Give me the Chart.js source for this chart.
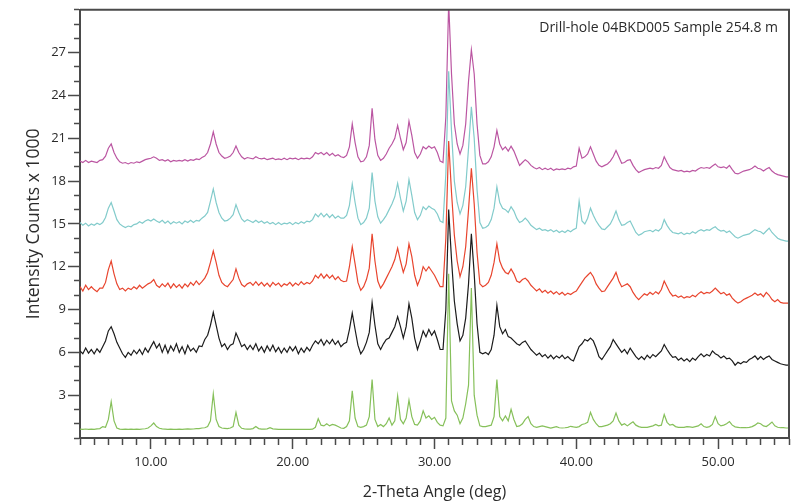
<!DOCTYPE html>
<html>
<head>
<meta charset="utf-8">
<title>XRD patterns - 04BKD005</title>
<script src="https://cdn.jsdelivr.net/npm/chart.js@4.4.1/dist/chart.umd.min.js"></script>
<style>
  html, body { margin: 0; padding: 0; background: #fff; }
  canvas { display: block; }
</style>
</head>
<body>
<canvas id="xrd" width="802" height="502"></canvas>
<script>
// 2-theta sampling of the scans: 5.0 .. 55.0 deg, 0.2 deg step
const twoThetaStart = 5;
const twoThetaStep = 0.2;

// intensity (counts x 1000), one row per degree, stacked scans
const magentaCounts = [
  19.4, 19.3, 19.45, 19.3, 19.4,
  19.35, 19.3, 19.45, 19.5, 19.75,
  20.3, 20.6, 20.0, 19.6, 19.35,
  19.25, 19.3, 19.2, 19.3, 19.25,
  19.35, 19.3, 19.4, 19.5, 19.55,
  19.6, 19.7, 19.6, 19.45, 19.5,
  19.4, 19.5, 19.35, 19.45, 19.4,
  19.45, 19.4, 19.5, 19.4, 19.5,
  19.45, 19.55, 19.5, 19.65, 19.75,
  20.0, 20.6, 21.45, 20.6, 20.0,
  19.75, 19.6, 19.65, 19.75, 20.0,
  20.45, 20.0, 19.7, 19.55, 19.65,
  19.6, 19.55, 19.7, 19.6, 19.55,
  19.6, 19.5, 19.55, 19.6, 19.5,
  19.55, 19.5, 19.6, 19.5, 19.6,
  19.55, 19.6, 19.5, 19.6, 19.55,
  19.6, 19.55, 19.7, 20.0, 19.9,
  20.0, 19.85, 20.0, 19.8, 19.95,
  19.75, 19.85, 19.7, 19.65, 19.8,
  20.4, 22.0, 20.7, 19.7, 19.35,
  19.4, 19.7, 20.5, 23.1, 20.9,
  19.8, 19.45, 19.6, 19.9, 20.3,
  20.6, 21.0, 21.9, 21.0, 20.2,
  20.7, 22.2, 21.2, 20.0, 19.6,
  19.9, 20.4, 20.25, 20.45, 20.3,
  20.4, 20.0, 19.4, 19.3, 22.5,
  30.5, 25.5, 22.0, 20.6, 19.9,
  20.5, 22.0, 25.0, 27.2, 25.5,
  22.0, 19.8, 19.2, 19.2, 19.35,
  19.7, 20.4, 21.55, 20.6, 20.2,
  20.4, 20.1, 20.45, 20.1, 19.6,
  19.1, 19.3, 19.5, 19.35, 19.1,
  18.95, 18.85, 18.95, 18.8, 18.9,
  18.8, 18.9, 18.75, 18.85, 18.8,
  18.85, 18.8, 18.9, 18.85, 19.0,
  19.05, 20.3, 19.6, 19.7, 19.9,
  20.4, 19.9, 19.4, 19.1, 19.0,
  19.1, 19.2, 19.4, 19.7, 20.15,
  19.7, 19.25, 19.3, 19.45, 19.5,
  19.1, 18.8, 18.6, 18.7, 18.8,
  18.85, 18.9, 18.85, 18.95, 18.9,
  19.1, 19.7, 19.3, 18.95, 18.8,
  18.75, 18.7, 18.75, 18.65, 18.7,
  18.65, 18.75, 18.7, 18.85, 18.95,
  18.9, 18.95, 18.9, 19.05, 19.2,
  19.0, 18.95, 19.0, 18.9, 19.1,
  18.8, 18.55, 18.5, 18.6, 18.7,
  18.75, 18.8, 18.9, 19.05, 18.9,
  18.85, 18.7, 18.85, 18.95, 18.7,
  18.55, 18.45, 18.4, 18.35, 18.3,
  18.3
];

const cyanCounts = [
  15.1, 14.9, 15.05, 14.85, 15.0,
  14.9, 15.05, 14.95, 15.1, 15.45,
  16.1, 16.5, 15.9, 15.3, 15.0,
  14.85, 14.75, 14.85, 14.8, 14.95,
  15.0, 15.15, 15.05, 15.2, 15.3,
  15.2, 15.35, 15.2, 15.1, 15.25,
  15.05, 15.2, 15.0, 15.15, 15.05,
  15.15, 15.0, 15.2, 15.1, 15.25,
  15.1, 15.25, 15.2, 15.4, 15.55,
  15.8, 16.6, 17.45, 16.5, 15.8,
  15.4, 15.2, 15.25, 15.4, 15.65,
  16.35, 15.8, 15.35, 15.15, 15.3,
  15.2, 15.1, 15.25, 15.1, 15.2,
  15.05, 15.15, 15.0, 15.1, 14.95,
  15.1, 14.95, 15.05, 15.0, 15.1,
  14.95, 15.1, 15.0, 15.15, 15.05,
  15.2, 15.15, 15.3, 15.7, 15.5,
  15.75, 15.5, 15.7, 15.45, 15.65,
  15.4, 15.55, 15.4, 15.4, 15.6,
  16.3, 17.8, 16.5, 15.4, 14.95,
  15.1, 15.4, 16.1, 18.6, 16.6,
  15.5, 15.05, 15.3, 15.6, 16.0,
  16.4, 16.9, 17.85, 16.8, 15.9,
  16.6, 18.1, 17.0, 15.8, 15.3,
  15.6, 16.2, 16.0, 16.25, 16.1,
  16.0, 15.7, 15.2, 15.1, 18.5,
  25.7, 21.5, 18.0, 16.5, 15.7,
  16.3, 17.6, 20.3, 23.2, 21.0,
  17.4, 15.1, 14.7, 14.75, 14.9,
  15.3, 16.1, 17.6, 16.5, 16.1,
  16.0, 15.8, 16.2, 15.9, 15.4,
  15.1, 15.2, 15.4, 15.2, 14.9,
  14.75, 14.6, 14.7, 14.55, 14.6,
  14.5, 14.6, 14.45, 14.55, 14.4,
  14.5, 14.4, 14.55, 14.45, 14.6,
  14.7, 16.6, 15.2, 15.0, 15.4,
  16.1, 15.6, 15.2, 14.9, 14.65,
  14.6, 14.8, 15.0, 15.4, 15.9,
  15.3, 14.9, 14.95, 15.1, 15.2,
  14.8, 14.4, 14.2, 14.3, 14.45,
  14.5, 14.55, 14.45, 14.6, 14.5,
  14.7, 15.3, 14.9, 14.6, 14.4,
  14.35, 14.3, 14.4, 14.25, 14.35,
  14.3, 14.45, 14.35, 14.5, 14.6,
  14.5, 14.6, 14.55, 14.7, 14.8,
  14.6, 14.5, 14.55, 14.4, 14.5,
  14.3, 14.1, 14.0, 14.1, 14.2,
  14.25, 14.3, 14.45, 14.6, 14.5,
  14.45, 14.3, 14.5, 14.7, 14.4,
  14.2, 14.0, 13.9, 13.85, 13.8,
  13.8
];

const redCounts = [
  10.6, 10.3, 10.7, 10.4, 10.6,
  10.4, 10.25, 10.5, 10.5, 10.9,
  11.8, 12.4, 11.5, 10.8, 10.4,
  10.5, 10.3, 10.5, 10.4, 10.6,
  10.45, 10.7, 10.5, 10.65, 10.8,
  10.9, 11.1, 10.7, 10.55, 10.8,
  10.6, 10.85, 10.5, 10.8, 10.55,
  10.75, 10.5, 10.8, 10.6, 10.9,
  10.7, 11.0, 10.75, 10.95, 11.2,
  11.6, 12.3, 13.1, 12.3, 11.4,
  10.9, 10.7, 10.6, 10.85, 11.1,
  11.85, 11.2, 10.75, 10.6, 10.8,
  10.9, 10.7, 10.95, 10.7, 10.9,
  10.65, 10.85, 10.6, 10.9, 10.7,
  10.85, 10.6, 10.8, 10.7, 10.9,
  10.65, 10.85, 10.7, 10.95, 10.75,
  10.9, 10.8, 11.0, 11.4, 11.2,
  11.5, 11.2, 11.45, 11.2, 11.4,
  11.1, 11.3, 11.05, 10.95, 11.0,
  12.0, 13.4, 12.2, 10.9, 10.35,
  10.6, 11.1, 11.9, 14.3, 12.4,
  11.0, 10.5, 10.8, 11.2, 11.6,
  12.0, 12.5, 13.3, 12.4, 11.6,
  12.2, 13.6, 12.7, 11.4, 10.7,
  11.2, 12.0, 11.7, 12.0, 11.7,
  11.4, 11.0, 10.6, 10.6, 14.0,
  20.8, 17.2, 14.2, 12.4, 11.3,
  12.0, 13.4, 16.0, 18.9, 16.4,
  13.0, 10.8, 10.6, 10.7, 10.9,
  11.4, 12.3, 13.6, 12.4, 11.9,
  11.6, 11.5, 11.85, 11.5, 11.0,
  10.9, 11.1, 11.2, 11.0, 10.7,
  10.5, 10.3, 10.45, 10.2, 10.35,
  10.15, 10.3, 10.1, 10.25, 10.05,
  10.2, 10.0, 10.15, 10.05, 10.2,
  10.3, 10.6, 10.9, 11.2, 11.4,
  11.6, 11.3, 10.8, 10.5, 10.25,
  10.3, 10.6, 10.9, 11.2, 11.6,
  11.0, 10.6, 10.7, 10.8, 10.6,
  10.2, 9.9, 9.7, 9.9, 10.1,
  10.0, 10.2, 10.05, 10.25, 10.1,
  10.4, 11.0, 10.6, 10.2, 9.95,
  10.0, 9.85, 9.95, 9.8, 9.9,
  9.85, 10.0, 9.9, 10.1, 10.25,
  10.1, 10.2, 10.15, 10.3, 10.5,
  10.3, 10.1, 10.2, 10.0, 10.1,
  9.8, 9.6, 9.45, 9.55, 9.7,
  9.8, 9.9, 10.0, 10.15, 10.0,
  10.1, 9.9, 10.2, 10.0, 9.7,
  9.55, 9.7, 9.5, 9.45, 9.45,
  9.45
];

const blackCounts = [
  6.1, 5.9, 6.3, 5.95, 6.2,
  5.9, 6.25, 6.0, 6.4, 6.8,
  7.5, 7.8, 7.3, 6.7, 6.3,
  5.9, 5.65, 6.0, 5.8, 6.15,
  5.9, 6.2, 5.85, 6.3, 6.0,
  6.4, 6.75, 6.3, 6.6, 6.0,
  6.5, 5.95, 6.45, 6.1, 6.6,
  6.0, 6.4, 5.9, 6.5, 6.1,
  6.3, 6.0, 6.45, 6.4, 6.9,
  7.2, 7.9, 8.8, 7.9, 7.0,
  6.4, 6.6, 6.2, 6.5, 6.6,
  7.35, 6.9, 6.4, 6.55, 6.2,
  6.5, 6.2, 6.6, 6.1, 6.4,
  6.0, 6.45, 6.1, 6.5, 6.05,
  6.35, 5.95, 6.3, 6.0, 6.4,
  6.1, 6.4, 5.9, 6.3, 6.0,
  6.35, 6.1, 6.5, 6.8, 6.6,
  6.9, 6.5, 6.85, 6.6, 6.9,
  6.55, 6.8, 6.4, 6.6, 6.7,
  7.6, 8.75, 7.6, 6.5, 5.9,
  6.2, 6.7, 7.4, 9.5, 7.9,
  6.6, 6.2, 6.6, 6.9, 7.0,
  7.4, 7.8, 8.5, 7.8, 7.0,
  7.8, 9.4, 8.4, 7.0, 6.2,
  6.8, 7.5, 7.1, 7.6, 7.2,
  7.5, 6.9, 6.2, 6.2, 9.0,
  16.0, 12.5, 9.6, 8.0, 6.8,
  7.2, 8.4, 10.8, 14.3, 11.5,
  8.0, 6.0, 5.9, 6.0, 5.85,
  6.2, 7.2, 9.3, 7.8, 7.3,
  7.6, 7.1, 7.0, 6.8, 6.6,
  6.5, 6.7, 6.8, 6.5, 6.2,
  6.0, 5.8, 5.95, 5.7, 5.85,
  5.6, 5.8, 5.55, 5.75, 5.6,
  5.8, 5.55, 5.7, 5.5, 5.4,
  5.9, 6.4, 6.6, 6.9, 6.8,
  7.0, 6.8, 6.3, 5.7, 5.5,
  5.8, 6.1, 6.4, 6.9, 6.6,
  6.3, 6.0, 6.2, 5.9, 6.3,
  6.0, 5.7, 5.5, 5.7, 5.5,
  5.8, 5.6, 5.85, 5.7, 5.9,
  6.1, 6.55, 6.2, 5.9, 5.65,
  5.7, 5.45, 5.6, 5.4, 5.55,
  5.35, 5.6, 5.45, 5.7, 5.9,
  5.7, 5.85, 5.75, 6.1, 5.9,
  5.8, 5.6, 5.75, 5.55, 5.6,
  5.4, 5.1, 5.3, 5.2, 5.35,
  5.3, 5.5, 5.6, 5.75, 5.5,
  5.7, 5.5, 5.65, 5.75, 5.5,
  5.4, 5.3, 5.2, 5.15, 5.1,
  5.1
];

const greenCounts = [
  0.62, 0.6, 0.63, 0.6, 0.62,
  0.6, 0.64, 0.66, 0.8, 0.75,
  1.3, 2.55, 1.2, 0.7, 0.62,
  0.6, 0.62, 0.6, 0.62, 0.6,
  0.62, 0.6, 0.63, 0.65, 0.7,
  0.85, 1.05, 0.8, 0.68, 0.64,
  0.62, 0.6, 0.62, 0.6, 0.6,
  0.62, 0.6, 0.62, 0.64, 0.62,
  0.63, 0.65, 0.66, 0.7, 0.72,
  0.8, 1.2, 3.1, 1.3, 0.8,
  0.7, 0.68, 0.66, 0.7, 0.8,
  1.8, 0.9, 0.68, 0.64, 0.62,
  0.62, 0.66, 0.8, 0.66, 0.62,
  0.62, 0.64, 0.72, 0.64, 0.62,
  0.6, 0.6, 0.6, 0.6, 0.6,
  0.6, 0.6, 0.6, 0.6, 0.6,
  0.6, 0.6, 0.62, 0.75, 1.35,
  0.9, 0.85, 1.0, 0.85, 0.95,
  0.9, 0.8, 0.7, 0.68, 0.8,
  1.2, 3.3, 1.4, 0.8, 0.75,
  0.8, 0.9, 1.5, 4.1, 1.3,
  0.8, 0.95, 0.8, 1.0, 1.4,
  0.9, 1.2, 2.95, 1.3, 1.0,
  1.4, 2.65, 1.5, 0.95, 0.9,
  1.2, 1.9, 1.4, 1.55, 1.3,
  1.45, 1.1, 0.9, 0.85, 1.4,
  11.5, 2.6, 1.9, 1.6, 1.0,
  1.4, 2.4, 3.7, 10.5, 3.0,
  1.6, 0.85, 0.8, 0.8, 0.85,
  0.9, 1.5, 4.1, 1.5, 1.2,
  1.55, 1.2, 2.0, 1.3, 0.8,
  0.85, 1.0, 1.3, 1.5, 1.0,
  0.8, 0.75, 0.8, 0.85, 0.8,
  0.75, 0.7, 0.75, 0.8, 0.72,
  0.7, 0.72, 0.75, 0.82, 0.78,
  0.75, 0.8, 0.95, 1.0, 1.1,
  1.8, 1.3, 1.0, 0.8, 0.8,
  0.85, 0.9, 1.0, 1.2, 1.75,
  1.2, 0.9, 1.0, 0.85, 1.0,
  1.13, 0.9, 0.8, 0.75, 0.75,
  0.75, 0.8, 0.85, 0.95, 0.85,
  0.9, 1.65, 1.1, 0.9, 0.95,
  0.8, 0.75, 0.75, 0.75, 0.8,
  0.78, 0.75, 0.8, 0.85, 1.0,
  0.8, 0.75, 0.8, 0.95, 1.5,
  1.0, 0.85, 0.9, 1.0, 1.15,
  0.9, 0.78, 0.75, 0.72, 0.72,
  0.72, 0.75, 0.8, 0.9, 1.05,
  1.0, 0.85, 0.8, 0.95, 1.12,
  0.85, 0.75, 0.72, 0.72, 0.7,
  0.7
];

const xTickLabels = [10, 20, 30, 40, 50];
const yTickLabels = [3, 6, 9, 12, 15, 18, 21, 24, 27];
const sampleNote = 'Drill-hole 04BKD005 Sample 254.8 m';

const axisColor = '#4a4a4a';
const textColor = '#2b2b2b';

function toPoints(counts) {
  return counts.map((c, i) => ({ x: +(twoThetaStart + i * twoThetaStep).toFixed(1), y: c }));
}

function trace(counts, color) {
  return {
    data: toPoints(counts),
    borderColor: color,
    borderWidth: 1.2,
    pointRadius: 0,
    tension: 0,
    fill: false
  };
}

// frame on top/right of the plot plus the sample note in the corner
const frameAndNote = {
  id: 'frameAndNote',
  afterDatasetsDraw(chart) {
    const { ctx, chartArea: a } = chart;
    ctx.save();
    ctx.strokeStyle = axisColor;
    ctx.lineWidth = 2;
    ctx.beginPath();
    ctx.moveTo(a.left, a.top);
    ctx.lineTo(a.right, a.top);
    ctx.lineTo(a.right, a.bottom);
    ctx.stroke();
    ctx.font = '14px "Open Sans", sans-serif';
    ctx.fillStyle = textColor;
    ctx.textAlign = 'right';
    ctx.textBaseline = 'alphabetic';
    ctx.fillText(sampleNote, a.right - 11, a.top + 22);
    ctx.restore();
  }
};

Chart.defaults.font.family = '"Open Sans", sans-serif';

new Chart(document.getElementById('xrd'), {
  type: 'line',
  data: {
    datasets: [
      trace(greenCounts, '#86c05a'),
      trace(blackCounts, '#1c1c1c'),
      trace(redCounts, '#e8452e'),
      trace(cyanCounts, '#82cbcb'),
      trace(magentaCounts, '#bb56a2')
    ]
  },
  options: {
    responsive: false,
    animation: false,
    layout: { padding: { top: 6, right: 13, left: 0, bottom: 0 } },
    plugins: { legend: { display: false }, tooltip: { enabled: false } },
    scales: {
      x: {
        type: 'linear',
        min: 5,
        max: 55,
        border: { color: axisColor, width: 2 },
        grid: {
          drawOnChartArea: false,
          tickLength: 11,
          tickWidth: 1.5,
          tickColor: axisColor,
          // short minor ticks: only the first 6px of the tick is stroked
          tickBorderDash: ctx => xTickLabels.includes(ctx.tick.value) ? [] : [6, 30]
        },
        ticks: {
          stepSize: 1,
          autoSkip: false,
          maxRotation: 0,
          padding: 5,
          color: textColor,
          font: { size: 13 },
          callback: v => xTickLabels.includes(v) ? v.toFixed(2) : ''
        },
        title: {
          display: true,
          text: '2-Theta Angle (deg)',
          color: textColor,
          font: { size: 16 },
          padding: { top: 0, bottom: 0 }
        },
        afterFit: s => { s.height = 64; }
      },
      y: {
        type: 'linear',
        min: 0,
        max: 30,
        border: { color: axisColor, width: 2 },
        grid: {
          drawOnChartArea: false,
          tickLength: 12,
          tickWidth: 1.5,
          tickColor: axisColor,
          tickBorderDash: ctx => yTickLabels.includes(ctx.tick.value) ? [] : [6, 30],
          tickBorderDashOffset: 30
        },
        ticks: {
          stepSize: 1,
          autoSkip: false,
          padding: 2,
          color: textColor,
          font: { size: 13 },
          callback: v => yTickLabels.includes(v) ? String(v) : ''
        },
        title: {
          display: true,
          text: 'Intensity Counts x 1000',
          color: textColor,
          font: { size: 17.5 },
          padding: { top: 24, bottom: 0 }
        },
        afterFit: s => { s.width = 80; }
      }
    }
  },
  plugins: [frameAndNote]
});
</script>
</body>
</html>
